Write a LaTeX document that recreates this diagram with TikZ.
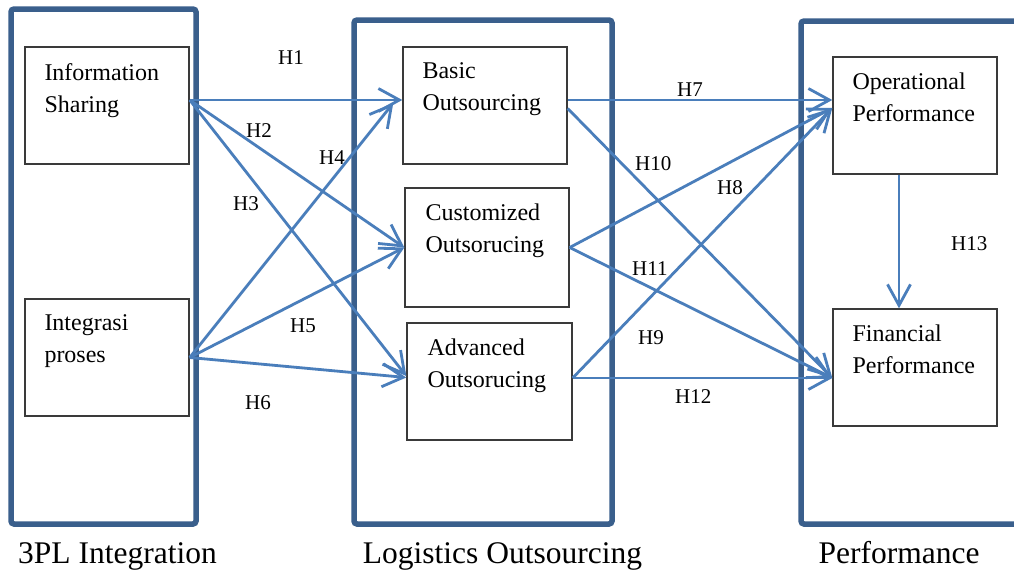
\documentclass[tikz,border=0pt]{standalone}
\usepackage{fontspec}
\setmainfont{Liberation Serif}
\usetikzlibrary{arrows.meta,calc}
\definecolor{frameblue}{HTML}{3A5F8C}
\definecolor{arrowblue}{HTML}{4A7EBB}
\definecolor{boxgray}{HTML}{3A3A3A}
\begin{document}
\begin{tikzpicture}[x=1pt,y=-1pt,
  frame/.style={draw=frameblue, line width=5.5pt, rounded corners=3pt},
  box/.style={draw=boxgray, line width=1.4pt, rectangle, minimum width=164pt, minimum height=117pt, inner sep=0pt},
  boxtext/.style={anchor=north west, font=\fontsize{24}{32}\selectfont, align=left, inner sep=0pt},
  conn/.style={draw=arrowblue, line width=2.8pt, -{Straight Barb[length=21pt,width=23pt]}},
  hlabel/.style={anchor=base west, font=\fontsize{21}{25}\selectfont, inner sep=0pt},
  grouplabel/.style={anchor=base, font=\fontsize{31.5}{36}\selectfont, inner sep=0pt}]
\useasboundingbox (0,0) rectangle (1014,571);
\clip (0,0) rectangle (1014,571);
\fill[white] (0,0) rectangle (1014,571);

% group frames
\draw[frame] (11,9) rectangle (196,524);
\draw[frame] (354,20) rectangle (612,524);
\draw[frame] (801,21) rectangle (1040,524);

% boxes
\node[box] (info)  at (107,105.5) {};
\node[box] (integ) at (107,357.5) {};
\node[box] (basic) at (485,105.5) {};
\node[box, minimum height=119pt] (cust) at (487,247.5) {};
\node[box, minimum width=165pt] (adv) at (489.5,381.5) {};
\node[box] (oper) at (915,115.5) {};
\node[box] (fin)  at (915,367.5) {};

% box texts
\node[boxtext] (tinfo)  at ([xshift=20pt,yshift=-16.6pt]info.north west)  {Information\\Sharing};
\node[boxtext] (tinteg) at ([xshift=20pt,yshift=-16.6pt]integ.north west) {Integrasi\\proses};
\node[boxtext] (tbasic) at ([xshift=20pt,yshift=-16.6pt]basic.north west) {Basic\\Outsourcing};
\node[boxtext] (tcust)  at ([xshift=21pt,yshift=-16.6pt]cust.north west)  {Customized\\Outsorucing};
\node[boxtext] (tadv)   at ([xshift=21pt,yshift=-16.6pt]adv.north west)   {Advanced\\Outsorucing};
\node[boxtext] (toper)  at ([xshift=20pt,yshift=-16.6pt]oper.north west)  {Operational\\Performance};
\node[boxtext] (tfin)   at ([xshift=20pt,yshift=-16.6pt]fin.north west)   {Financial\\Performance};

% connectors
\draw[conn] ([yshift=5.5pt]info.east) -- ([yshift=5.5pt]basic.west);
\draw[conn] ([yshift=5.5pt]info.east) -- (cust.west);
\draw[conn] ([yshift=5.5pt]info.east) -- ([yshift=5.5pt]adv.west);
\draw[conn] (integ.east) -- ([xshift=-9pt,yshift=2.5pt]basic.west);
\draw[conn] (integ.east) -- (cust.west);
\draw[conn] (integ.east) -- ([yshift=4pt]adv.west);
\draw[conn] ([yshift=5.5pt]basic.east) -- ([yshift=15.5pt]oper.west);
\draw[conn] ([yshift=-3pt]basic.east) -- ([yshift=-10.5pt]fin.west);
\draw[conn] (cust.east) -- ([yshift=7.5pt]oper.west);
\draw[conn] (cust.east) -- ([yshift=-10.5pt]fin.west);
\draw[conn] ([yshift=3.5pt]adv.east) -- ([yshift=7.5pt]oper.west);
\draw[conn] ([yshift=3.5pt]adv.east) -- ([yshift=-10.5pt]fin.west);
\draw[conn] ([xshift=-16pt]oper.south) -- ([xshift=-16pt]fin.north);

% hypothesis labels
\node[hlabel] (h1)  at (278,64)  {H1};
\node[hlabel] (h2)  at (246,137) {H2};
\node[hlabel] (h3)  at (233,210) {H3};
\node[hlabel] (h4)  at (319,164) {H4};
\node[hlabel] (h5)  at (290,332) {H5};
\node[hlabel] (h6)  at (245,409) {H6};
\node[hlabel] (h7)  at (677,96)  {H7};
\node[hlabel] (h8)  at (717,194) {H8};
\node[hlabel] (h9)  at (638,344) {H9};
\node[hlabel] (h10) at (635,170) {H10};
\node[hlabel] (h11) at (632,275) {H11};
\node[hlabel] (h12) at (675,403) {H12};
\node[hlabel] (h13) at (951,250) {H13};

% group labels
\node[grouplabel] (g1) at (117.5,563) {3PL Integration};
\node[grouplabel] (g2) at (502.5,563) {Logistics Outsourcing};
\node[grouplabel] (g3) at (899,563)   {Performance};
\end{tikzpicture}
\end{document}
